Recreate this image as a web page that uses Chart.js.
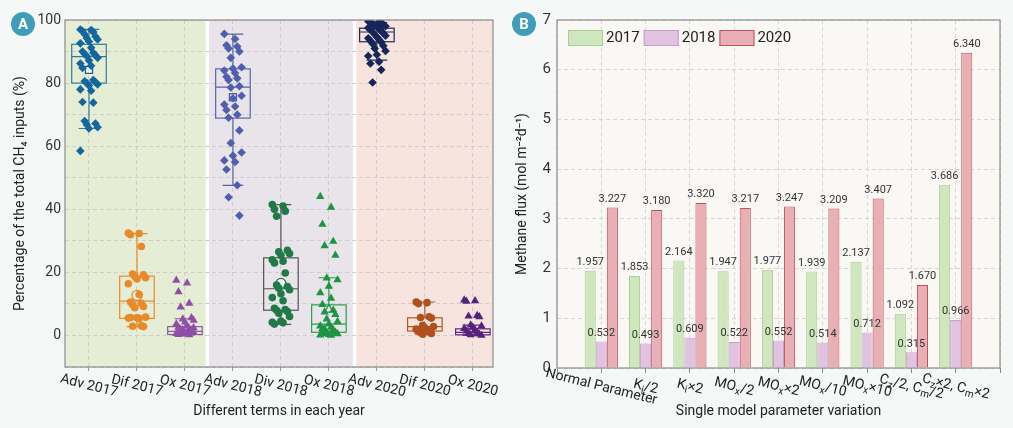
<!DOCTYPE html>
<html>
<head>
<meta charset="utf-8">
<script src="https://cdn.jsdelivr.net/npm/chart.js@4.4.1/dist/chart.umd.min.js"></script>
<style>
  body { margin: 0; background: #f6f8f8; font-family: Roboto, sans-serif; }
  #wrap { position: relative; width: 1013px; height: 428px; }
  .panel { position: absolute; top: 0; height: 428px; }
  #pa { left: 0; width: 505px; }
  #pb { left: 500px; width: 513px; }
  .badge { position: absolute; width: 24px; height: 24px; border-radius: 50%; background: #3f9db8;
           color: #fff; font: bold 15px Roboto, sans-serif; text-align: center; line-height: 24px; }
</style>
</head>
<body>
<div id="wrap">
  <div class="panel" id="pa"><canvas id="chartA"></canvas></div>
  <div class="panel" id="pb"><canvas id="chartB"></canvas></div>
  <div class="badge" style="left:11px;top:12px;">A</div>
  <div class="badge" style="left:512px;top:12px;">B</div>
</div>
<script>
// ---- datos panel A (porcentaje de entradas de CH4) ----
const termsA = ['Adv 2017', 'Dif 2017', 'Ox 2017', 'Adv 2018', 'Div 2018', 'Ox 2018', 'Adv 2020', 'Dif 2020', 'Ox 2020'];
const q1A  = [80.0, 5.4, 0.3, 68.9, 8.0, 1.0, 93.1, 1.4, 0.2];
const medA = [88.4, 10.9, 1.3, 78.7, 14.8, 3.6, 96.2, 2.8, 1.0];
const q3A  = [92.3, 18.8, 2.8, 84.5, 24.6, 9.7, 97.4, 5.6, 2.1];
const loA  = [65.6, 2.8, 0.2, 47.6, 3.5, 0.0, 87.3, 0.5, 0.0];
const hiA  = [97.0, 32.3, 5.3, 95.5, 41.5, 18.3, 99.2, 10.6, 3.3];
const meanA = [84.2, 12.7, null, 75.5, 16.5, 8.2, null, null, null];

const adv17 = [97.0, 96.8, 96.5, 96.2, 95.5, 94.8, 94.2, 93.8, 93.2, 92.6, 91.2, 90.0, 89.6, 89.2, 88.8, 88.5, 88.0, 87.2, 86.2, 85.5, 84.8, 81.0, 80.6, 80.3, 80.0, 79.6, 79.2, 78.0, 77.6, 74.0, 73.8, 68.0, 67.2, 66.8, 66.0, 65.6, 58.5];
const dif17 = [32.5, 32.3, 31.9, 28.2, 19.5, 19.2, 18.8, 18.3, 17.9, 16.4, 13.0, 10.6, 10.2, 9.8, 9.2, 8.8, 5.8, 5.6, 5.5, 5.4, 5.7, 3.1, 2.9, 2.8];
const ox17  = [17.5, 16.6, 13.8, 10.2, 9.0, 5.6, 5.2, 4.8, 4.2, 3.6, 3.0, 2.6, 2.2, 1.9, 1.6, 1.3, 1.0, 0.8, 0.6, 0.4, 0.3, 0.2, 0.5, 1.1, 1.8, 2.4];
const adv18 = [95.6, 94.0, 92.0, 91.6, 91.0, 90.0, 88.0, 85.0, 84.6, 84.0, 83.2, 82.0, 81.5, 81.0, 79.0, 78.6, 76.0, 75.2, 73.2, 72.6, 71.5, 70.0, 69.0, 65.0, 61.0, 58.0, 57.0, 55.5, 55.0, 52.6, 47.6, 43.8, 38.0];
const div18 = [41.5, 41.0, 40.0, 39.4, 37.8, 27.0, 26.5, 26.0, 25.4, 24.0, 23.5, 23.0, 19.8, 16.0, 15.5, 15.0, 14.5, 13.2, 12.0, 11.0, 8.6, 8.2, 8.0, 7.6, 7.0, 6.0, 4.6, 4.2, 4.0, 3.6];
const ox18  = [44.0, 40.6, 35.2, 29.8, 28.4, 25.4, 18.2, 17.6, 15.6, 13.5, 11.8, 9.8, 8.0, 7.4, 6.6, 5.2, 4.4, 3.6, 3.0, 2.6, 2.2, 1.8, 1.4, 1.0, 0.8, 0.5, 0.3, 0.1, 0.0, 0.6, 1.2, 2.0];
const adv20 = [99.6, 99.4, 99.2, 99.0, 98.8, 98.6, 98.3, 98.0, 97.8, 97.5, 97.2, 96.9, 96.5, 96.2, 95.8, 95.4, 95.0, 94.6, 94.2, 93.8, 93.4, 93.0, 92.5, 91.8, 91.0, 90.2, 89.0, 88.6, 86.8, 86.2, 84.2, 80.2];
const dif20 = [10.6, 10.4, 10.1, 5.9, 5.7, 5.5, 3.2, 2.8, 2.4, 2.0, 1.7, 1.4, 1.1, 0.9, 0.6, 0.4];
const ox20  = [11.2, 11.0, 10.8, 6.3, 6.1, 5.9, 3.3, 3.0, 2.6, 2.2, 1.8, 1.4, 1.0, 0.7, 0.4, 0.2, 0.0];
const puntosA = [adv17, dif17, ox17, adv18, div18, ox18, adv20, dif20, ox20];

// ---- datos panel B (flujo de metano) ----
const paramsB = ['Normal Parameter', 'K_{i}/2', 'K_{i}×2', 'MO_{x}/2', 'MO_{x}×2', 'MO_{x}/10', 'MO_{x}×10', 'C_{z}/2, C_{m}/2', 'C_{z}×2, C_{m}×2'];
const years = ['2017', '2018', '2020'];
const flux2017 = [1.957, 1.853, 2.164, 1.947, 1.977, 1.939, 2.137, 1.092, 3.686];
const flux2018 = [0.532, 0.493, 0.609, 0.522, 0.552, 0.514, 0.712, 0.315, 0.966];
const flux2020 = [3.227, 3.180, 3.320, 3.217, 3.247, 3.209, 3.407, 1.670, 6.340];

Chart.defaults.font.family = 'Roboto, sans-serif';
Chart.defaults.color = '#333';
Chart.defaults.animation = false;

// colores
const pointColorsA = ['#13669e', '#e8892a', '#8e50a6', '#4f5fab', '#1f7a48', '#1c9442', '#18255a', '#b0501c', '#58217d'];
const boxColorsA   = ['#2f7e99', '#e8892a', '#9057a5', '#5566ad', '#555555', '#27a04c', '#1e2a5a', '#b5561f', '#5b2a82'];

function forma(t) {
    if (t.startsWith('Adv')) return 'rectRot';
    if (t.startsWith('Ox')) return 'triangle';
    return 'circle';
}
function formaMedia(t) {
    return t.startsWith('Adv') ? 'rect' : forma(t);
}

var datasetsA = puntosA.map(function (vals, g) {
    var t = termsA[g];
    return {
        label: t,
        data: vals.map((v, k) => ({ x: g + 1 + ((k * 5) % 9 - 4) * 0.045, y: v })),
        pointStyle: forma(t),
        pointRadius: t.startsWith('Adv') ? 4.3 : (t.startsWith('Ox') ? 4.8 : 3.8),
        backgroundColor: pointColorsA[g],
        borderColor: pointColorsA[g],
        borderWidth: 0
    };
});
datasetsA.push({
    label: 'media',
    data: meanA.map((m, g) => m === null ? null : { x: g + 1, y: m, g: g }).filter(Boolean),
    pointStyle: ctx => formaMedia(termsA[ctx.raw.g]),
    pointRadius: 5,
    backgroundColor: 'rgba(255,255,255,0.55)',
    borderColor: ctx => pointColorsA[ctx.raw.g],
    borderWidth: 1.3
});

// regiones de fondo por año (en unidades del eje x)
const regiones = [[0.5, 3.43, '#e6edd5'], [3.5, 6.5, '#e9e3ea'], [6.57, 9.42, '#f8e4df']];

const fondoA = {
    id: 'fondoA',
    beforeDraw(chart) {
        const { ctx, chartArea: a, scales: { x } } = chart;
        ctx.save();
        ctx.fillStyle = '#ffffff';
        ctx.fillRect(a.left, a.top, a.right - a.left, a.bottom - a.top);
        regiones.forEach(function (r) {
            var x0 = x.getPixelForValue(r[0]), x1 = x.getPixelForValue(r[1]);
            ctx.fillStyle = r[2];
            ctx.fillRect(x0, a.top, x1 - x0, a.bottom - a.top);
        });
        ctx.restore();
    }
};

const cajas = {
    id: 'cajas',
    beforeDatasetsDraw(chart) {
        const { ctx, scales: { x, y } } = chart;
        ctx.save();
        ctx.lineWidth = 1.2;
        termsA.forEach(function (t, g) {
            var cx = x.getPixelForValue(g + 1);
            var half = x.getPixelForValue(g + 1.36) - cx;
            var cap = half * 0.6;
            var yHi = y.getPixelForValue(hiA[g]), yLo = y.getPixelForValue(loA[g]);
            var yQ1 = y.getPixelForValue(q1A[g]), yQ3 = y.getPixelForValue(q3A[g]);
            var yMed = y.getPixelForValue(medA[g]);
            ctx.strokeStyle = boxColorsA[g];
            ctx.beginPath();
            ctx.moveTo(cx, yHi); ctx.lineTo(cx, yQ3);
            ctx.moveTo(cx, yQ1); ctx.lineTo(cx, yLo);
            ctx.moveTo(cx - cap, yHi); ctx.lineTo(cx + cap, yHi);
            ctx.moveTo(cx - cap, yLo); ctx.lineTo(cx + cap, yLo);
            ctx.moveTo(cx - half, yMed); ctx.lineTo(cx + half, yMed);
            ctx.stroke();
            ctx.strokeRect(cx - half, yQ3, 2 * half, yQ1 - yQ3);
        });
        ctx.restore();
    }
};

const marco = {
    id: 'marco',
    afterDraw(chart) {
        const { ctx, chartArea: a } = chart;
        ctx.save();
        ctx.strokeStyle = '#8c8c8c';
        ctx.lineWidth = 1.2;
        ctx.strokeRect(a.left, a.top, a.right - a.left, a.bottom - a.top);
        ctx.restore();
    }
};

// texto con subíndices: 'K_{i}/2'
function partes(txt) {
    var out = [], re = /_\{([^}]*)\}/g, last = 0, m;
    while ((m = re.exec(txt)) !== null) {
        if (m.index > last) out.push([txt.slice(last, m.index), false]);
        out.push([m[1], true]);
        last = re.lastIndex;
    }
    if (last < txt.length) out.push([txt.slice(last), false]);
    return out;
}

function etiquetasX(labels, posFn) {
    return {
        id: 'etiquetasX',
        afterDraw(chart) {
            const { ctx, chartArea: a, scales: { x } } = chart;
            ctx.save();
            ctx.fillStyle = '#222';
            ctx.textBaseline = 'middle';
            ctx.textAlign = 'left';
            labels.forEach(function (lab, i) {
                var segs = partes(lab);
                var fNorm = '14px Roboto, sans-serif', fSub = '10px Roboto, sans-serif';
                var w = 0;
                segs.forEach(s => { ctx.font = s[1] ? fSub : fNorm; w += ctx.measureText(s[0]).width; });
                ctx.save();
                ctx.translate(x.getPixelForValue(posFn(i)), a.bottom + 19);
                ctx.rotate(14 * Math.PI / 180);
                var cx = -w / 2;
                segs.forEach(function (s) {
                    ctx.font = s[1] ? fSub : fNorm;
                    ctx.fillText(s[0], cx, s[1] ? 4 : 0);
                    cx += ctx.measureText(s[0]).width;
                });
                ctx.restore();
            });
            ctx.restore();
        }
    };
}

new Chart(document.getElementById('chartA'), {
    type: 'scatter',
    data: { datasets: datasetsA },
    options: {
        responsive: true,
        maintainAspectRatio: false,
        layout: { padding: { top: 20, right: 12, left: 0, bottom: 0 } },
        plugins: { legend: { display: false }, tooltip: { enabled: false } },
        scales: {
            x: {
                type: 'linear',
                min: 0.5,
                max: 9.42,
                afterBuildTicks: s => { s.ticks = termsA.map((t, i) => ({ value: i + 1 })); },
                afterFit: s => { s.height = 61; },
                ticks: { display: false },
                grid: { color: '#cdcdcd', drawTicks: true, tickLength: 4, tickColor: '#999' },
                border: { display: false, dash: [4, 3] },
                title: { display: true, text: 'Different terms in each year', font: { size: 14 }, color: '#222', padding: { top: 12, bottom: 8 } }
            },
            y: {
                min: -10,
                max: 100,
                afterFit: s => { s.width = 65; },
                ticks: {
                    stepSize: 10,
                    font: { size: 14 },
                    color: '#333',
                    padding: 4,
                    callback: v => (v >= 0 && v % 20 === 0) ? v : ''
                },
                grid: { color: '#cdcdcd', drawTicks: false },
                border: { display: false, dash: [4, 3] },
                title: { display: true, text: 'Percentage of the total CH\u2084 inputs (%)', font: { size: 14 }, color: '#222', padding: { top: 12, bottom: 0 } }
            }
        }
    },
    plugins: [fondoA, cajas, marco, etiquetasX(termsA, i => i + 1)]
});

// ---- panel B ----
const fondoB = {
    id: 'fondoB',
    beforeDraw(chart) {
        const { ctx, chartArea: a } = chart;
        ctx.save();
        ctx.fillStyle = '#faf8f4';
        ctx.fillRect(a.left, a.top, a.right - a.left, a.bottom - a.top);
        ctx.restore();
    }
};

const valoresB = {
    id: 'valoresB',
    afterDatasetsDraw(chart) {
        const ctx = chart.ctx;
        ctx.save();
        ctx.font = '11px Roboto, sans-serif';
        ctx.fillStyle = '#333';
        ctx.textAlign = 'center';
        ctx.textBaseline = 'bottom';
        chart.data.datasets.forEach(function (ds, d) {
            chart.getDatasetMeta(d).data.forEach(function (el, i) {
                var v = ds.data[i];
                if (v === null || v === undefined) return;
                ctx.fillText(v.toFixed(3), el.x, el.y - 3);
            });
        });
        ctx.restore();
    }
};

const leyendaB = {
    id: 'leyendaB',
    afterDraw(chart) {
        const { ctx, chartArea: a } = chart;
        ctx.save();
        ctx.font = '15px Roboto, sans-serif';
        ctx.textBaseline = 'middle';
        ctx.fillStyle = '#222';
        var x0 = a.left + 11, y0 = a.top + 10;
        chart.data.datasets.forEach(function (ds) {
            ctx.fillStyle = ds.backgroundColor;
            ctx.fillRect(x0, y0, 35, 16);
            ctx.strokeStyle = ds.borderColor;
            ctx.lineWidth = 1;
            ctx.strokeRect(x0 + 0.5, y0 + 0.5, 34, 15);
            x0 += 38;
            ctx.fillStyle = '#222';
            ctx.fillText(ds.label, x0, y0 + 8.5);
            x0 += ctx.measureText(ds.label).width + 4;
        });
        ctx.restore();
    }
};

var etiquetasB = [''].concat(paramsB, ['']);
function conBordes(vals) { return [null].concat(vals, [null]); }

new Chart(document.getElementById('chartB'), {
    type: 'bar',
    data: {
        labels: etiquetasB,
        datasets: [
            { label: years[0], data: conBordes(flux2017), backgroundColor: '#d0e6bf', borderColor: '#a8cf92', borderWidth: 1 },
            { label: years[1], data: conBordes(flux2018), backgroundColor: '#e1c3e1', borderColor: '#c99ccb', borderWidth: 1 },
            { label: years[2], data: conBordes(flux2020), backgroundColor: '#e8afb4', borderColor: '#c0525e', borderWidth: 1 }
        ]
    },
    options: {
        responsive: true,
        maintainAspectRatio: false,
        layout: { padding: { top: 20, right: 13, left: 0, bottom: 0 } },
        plugins: { legend: { display: false }, tooltip: { enabled: false } },
        datasets: { bar: { categoryPercentage: 0.75, barPercentage: 1.0 } },
        scales: {
            x: {
                offset: false,
                afterFit: s => { s.height = 60; },
                ticks: { display: false },
                grid: { offset: false, color: '#d6d6d6', drawTicks: true, tickLength: 5, tickColor: '#888' },
                border: { display: false, dash: [4, 3] },
                title: { display: true, text: 'Single model parameter variation', font: { size: 14 }, color: '#222', padding: { top: 12, bottom: 8 } }
            },
            y: {
                min: 0,
                max: 7,
                afterFit: s => { s.width = 57; },
                ticks: { stepSize: 1, font: { size: 15 }, color: '#333', padding: 6 },
                grid: { color: '#d6d6d6', drawTicks: false },
                border: { display: false, dash: [4, 3] },
                title: { display: true, text: 'Methane flux (mol m\u207B\u00B2d\u207B\u00B9)', font: { size: 14 }, color: '#222', padding: { top: 14, bottom: 0 } }
            }
        }
    },
    plugins: [fondoB, valoresB, marco, leyendaB, etiquetasX(paramsB, i => i + 1)]
});
</script>
</body>
</html>
